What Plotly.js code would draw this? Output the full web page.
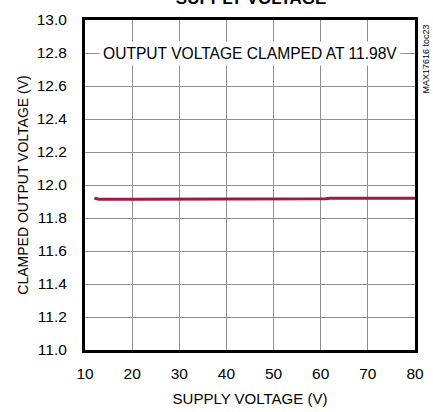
<!DOCTYPE html>
<html>
<head>
<meta charset="utf-8">
<script src="https://cdn.plot.ly/plotly-3.0.1.min.js"></script>
<style>html,body{margin:0;padding:0;background:#fff;}#chart{width:433px;height:412px;}</style>
</head>
<body>
<div id="chart"></div>
<script>
const supplyVoltage = [12, 13, 20, 30, 40, 50, 60, 61, 62, 70, 80];
const clampedOutput = [11.92, 11.914, 11.913, 11.913, 11.913, 11.913, 11.913, 11.917, 11.919, 11.919, 11.919];
const xTicks = [10, 20, 30, 40, 50, 60, 70, 80];
const yTicks = [11.0, 11.2, 11.4, 11.6, 11.8, 12.0, 12.2, 12.4, 12.6, 12.8, 13.0];

const font = 'Liberation Sans, Arial, sans-serif';
const data = [{
  x: supplyVoltage, y: clampedOutput, type: 'scatter', mode: 'lines',
  line: {color: '#a3174a', width: 3}, hoverinfo: 'skip'
}];
const layout = {
  width: 433, height: 412,
  margin: {l: 85, r: 18, t: 20, b: 62},
  paper_bgcolor: '#fff', plot_bgcolor: '#fff',
  showlegend: false,
  font: {family: font, color: '#000'},
  title: {text: '<b>SUPPLY VOLTAGE</b>', font: {family: font, size: 17, color: '#000'},
          x: 0.58, xanchor: 'center', y: 0.99, yanchor: 'bottom', yref: 'container'},
  xaxis: {
    range: [10, 80], tickvals: xTicks, ticktext: xTicks.map(String),
    showgrid: true, gridcolor: '#8f8f8f', gridwidth: 1,
    showline: true, linecolor: '#000', linewidth: 3, mirror: true,
    ticks: '', zeroline: false, tickfont: {size: 15.5, family: font},
    ticklabelstandoff: 7,
    title: {text: 'SUPPLY VOLTAGE (V)', font: {size: 15, family: font}, standoff: 13}
  },
  yaxis: {
    range: [11.0, 13.0], tickvals: yTicks, ticktext: yTicks.map(v => v.toFixed(1)),
    showgrid: true, gridcolor: '#8f8f8f', gridwidth: 1,
    showline: true, linecolor: '#000', linewidth: 3, mirror: true,
    ticks: '', zeroline: false, tickfont: {size: 15.5, family: font},
    ticklabelstandoff: 12,
    title: {text: 'CLAMPED OUTPUT VOLTAGE (V)', font: {size: 14, family: font}, standoff: 5}
  },
  annotations: [
    {text: 'OUTPUT VOLTAGE CLAMPED AT 11.98V', x: 0.5, xref: 'paper', y: 12.8, yref: 'y',
     showarrow: false, bgcolor: '#fff', borderpad: 3, xanchor: 'center', yanchor: 'middle',
     font: {size: 15.6, family: font, color: '#000'}},
    {text: 'MAX17616 toc23', x: 1.0, xref: 'paper', xshift: 10, y: 13.0, yref: 'y', yshift: -3,
     showarrow: false, textangle: -90, xanchor: 'center', yanchor: 'top',
     font: {size: 9, family: font, color: '#000'}}
  ]
};
Plotly.newPlot('chart', data, layout, {staticPlot: true, displayModeBar: false});
</script>
</body>
</html>
